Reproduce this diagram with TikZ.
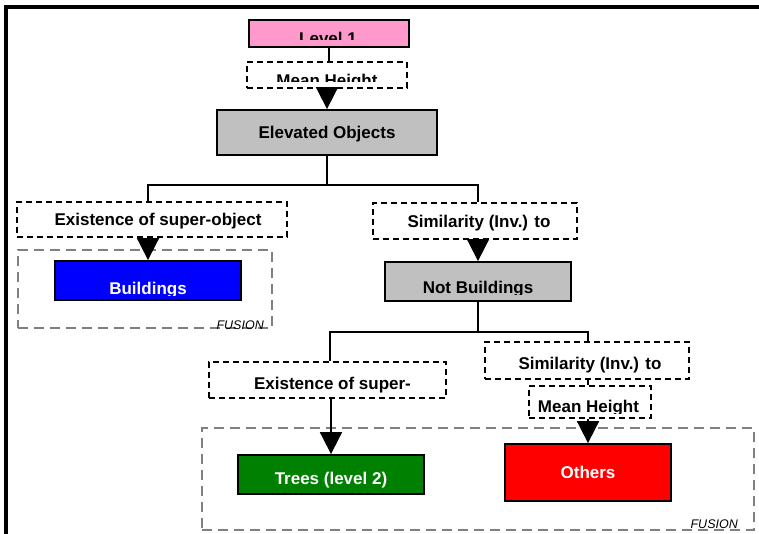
\documentclass[tikz,border=0pt]{standalone}
\usepackage{fontspec}
\setmainfont{Liberation Sans}
\usetikzlibrary{arrows.meta,calc}
\definecolor{pinkL}{HTML}{FF99CC}
\definecolor{grayF}{HTML}{C0C0C0}
\definecolor{fusgray}{HTML}{808080}
\definecolor{treegreen}{HTML}{008000}
\tikzset{
  boxs/.style={draw=black, line width=1.8pt, inner sep=0pt, rectangle},
  dboxs/.style={draw=black, dash pattern=on 6pt off 4pt, line width=1.8pt, fill=white, inner sep=0pt, rectangle},
  fusions/.style={draw=fusgray, dash pattern=on 10pt off 6pt, line width=2.4pt, inner sep=0pt, rectangle},
  lbl/.style={font=\bfseries\fontsize{17}{20}\selectfont, inner sep=0pt, anchor=base},
  fuslbl/.style={font=\itshape\fontsize{12.5}{14}\selectfont, inner sep=0pt, anchor=base east},
  conn/.style={line width=1.8pt},
  arr/.style={conn, -{Triangle[width=22pt,length=22pt]}}
}
\newcommand{\cliptxt}[7]{% name, x, baseline, clip top, clip bottom, colour, text
  \begin{scope}
    \clip ($(#2,#4)+(-140,0)$) rectangle ($(#2,#5)+(140,0)$);
    \node[lbl, text=#6] (#1) at (#2,#3) {#7};
  \end{scope}}
\begin{document}
\begin{tikzpicture}[x=1pt,y=-1pt]
\useasboundingbox (0,0) rectangle (759,534);
\fill[white] (0,0) rectangle (759,534);
% frame
\draw[line width=4pt] (6,534) -- (6,7) -- (759,7);

% fusion boxes
\node[fusions, minimum width=254pt, minimum height=78pt] (F1) at (145,289) {};
\node[fusions, minimum width=552pt, minimum height=102pt] (F2) at (478,479) {};
\begin{scope}
  \clip (F1.north west) rectangle (F1.south east);
  \node[fuslbl] (F1t) at (264,329) {FUSION};
\end{scope}
\begin{scope}
  \clip (F2.north west) rectangle (F2.south east);
  \node[fuslbl] (F2t) at (738,528) {FUSION};
\end{scope}

% boxes
\node[boxs, fill=pinkL, minimum width=160pt, minimum height=27pt] (L1) at (329,33.5) {};
\node[dboxs, minimum width=160pt, minimum height=26pt] (MH1) at (327,75) {};
\node[boxs, fill=grayF, minimum width=220pt, minimum height=45pt] (EO) at (327,132.5) {};
\node[dboxs, minimum width=270pt, minimum height=35pt] (ES1) at (152,219.5) {};
\node[boxs, fill=blue, minimum width=186pt, minimum height=39pt] (BU) at (148,280.5) {};
\node[dboxs, minimum width=204pt, minimum height=36pt] (SIM1) at (475,221) {};
\node[boxs, fill=grayF, minimum width=186pt, minimum height=39pt] (NB) at (478,281.5) {};
\node[dboxs, minimum width=237pt, minimum height=36pt] (ES2) at (327.5,380) {};
\node[dboxs, minimum width=204pt, minimum height=37pt] (SIM2) at (587,360.5) {};
\node[dboxs, minimum width=122pt, minimum height=32pt] (MH2) at (590,402) {};
\node[boxs, fill=treegreen, minimum width=186pt, minimum height=39pt] (TR) at (331,474.5) {};
\node[boxs, fill=red, minimum width=166pt, minimum height=57pt] (OT) at (588,472.5) {};

% texts
\cliptxt{L1t}{328}{45}{21}{40}{black}{Level 1}
\cliptxt{MH1t}{327}{87}{63}{82}{black}{Mean Height}
\node[lbl] (EOt) at (327,139) {Elevated Objects};
\node[lbl] (ES1t) at (158,226) {Existence of super-object};
\cliptxt{BUt}{148}{294}{262}{295}{white}{Buildings}
\node[lbl] (SIM1t) at (479,228) {Similarity (Inv.) to};
\cliptxt{NBt}{478}{293}{263}{294}{black}{Not Buildings}
\node[lbl] (ES2t) at (332.5,389) {Existence of super-};
\node[lbl] (SIM2t) at (590,369) {Similarity (Inv.) to};
\cliptxt{MH2t}{588.5}{412}{387}{413}{black}{Mean Height}
\cliptxt{TRt}{331}{484}{456}{487}{white}{Trees (level 2)}
\node[lbl, text=white] (OTt) at (588,478) {Others};

% connectors
\draw[conn] (L1.south) -- (L1.south |- MH1.north);
\draw[arr] (MH1.south) -- (EO.north);
\coordinate (j1) at ($(EO.south)+(0,29)$);
\draw[conn] (EO.south) -- (j1);
\draw[conn] (j1) -| ($(ES1.north)+(-4,0)$);
\draw[conn] (j1) -| ($(SIM1.north)+(3,0)$);
\draw[arr] ($(ES1.south)+(-4,0)$) -- (BU.north);
\draw[arr] (NB.north |- SIM1.south) -- (NB.north);
\coordinate (j2) at ($(NB.south)+(0,30)$);
\draw[conn] (NB.south) -- (j2);
\draw[conn] (j2) -| ($(ES2.north)+(2.5,0)$);
\draw[conn] (j2) -| ($(SIM2.north)+(1,0)$);
\draw[conn] ($(SIM2.south)+(1,0)$) -- ($(MH2.north)+(-2,0)$);
\draw[arr] ($(MH2.south)+(-2,0)$) -- (OT.north);
\draw[arr] (TR.north |- ES2.south) -- (TR.north);
\end{tikzpicture}
\end{document}
